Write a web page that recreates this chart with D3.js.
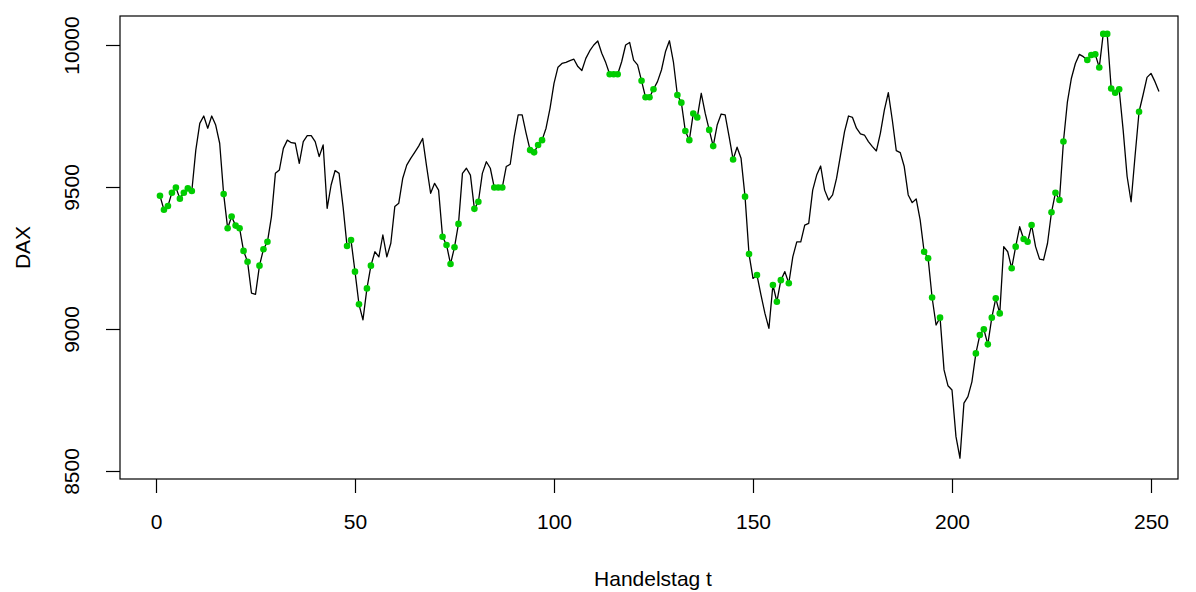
<!DOCTYPE html>
<html>
<head>
<meta charset="utf-8">
<script src="https://cdn.jsdelivr.net/npm/d3@7"></script>
<style>
  body { margin: 0; background: #fff; }
  text { font-family: "Liberation Sans", Arial, sans-serif; }
</style>
</head>
<body>
<script>
/*global d3 */

// DAX closing values per trading day (t = 1..252)
var dax = [
  9469, 9420, 9433, 9480, 9498, 9459, 9480, 9495, 9486, 9630,
  9724, 9750, 9707, 9750, 9718, 9654, 9475, 9355, 9396, 9364,
  9355, 9275, 9237, 9126, 9122, 9223, 9281, 9307, 9395, 9548,
  9560, 9636, 9665, 9656, 9654, 9583, 9660, 9681, 9681, 9660,
  9607, 9648, 9425, 9507, 9558, 9548, 9431, 9292, 9313, 9202,
  9087, 9032, 9143, 9223, 9272, 9254, 9331, 9254, 9302, 9431,
  9443, 9531, 9577, 9601, 9622, 9644, 9671, 9572, 9478, 9513,
  9489, 9325, 9296, 9229, 9288, 9370, 9548, 9566, 9542, 9423,
  9448, 9548, 9589, 9566, 9498, 9498, 9498, 9572, 9580, 9677,
  9754, 9754, 9689, 9630, 9622, 9648, 9665, 9707, 9777, 9865,
  9922, 9935, 9939, 9945, 9950, 9924, 9910, 9953, 9980, 10000,
  10014, 9971, 9938, 9897, 9897, 9897, 9941, 10000, 10009, 9947,
  9930, 9874, 9816, 9816, 9844, 9871, 9912, 9976, 10015, 9941,
  9824, 9797, 9697, 9665, 9759, 9745, 9830, 9759, 9701, 9644,
  9718, 9757, 9754, 9677, 9597, 9640, 9601, 9466, 9264, 9178,
  9190, 9120, 9055, 9002, 9155, 9096, 9172, 9202, 9161, 9254,
  9307, 9307, 9366, 9372, 9489, 9542, 9574, 9489, 9454, 9472,
  9531, 9613, 9695, 9750, 9745, 9707, 9687, 9683, 9660, 9642,
  9627, 9689, 9771, 9832, 9736, 9628, 9621, 9572, 9472, 9445,
  9458, 9384, 9272, 9249, 9111, 9014, 9040, 8856, 8800, 8785,
  8621, 8545, 8739, 8762, 8814, 8914, 8979, 8999, 8946, 9040,
  9108, 9055, 9290, 9272, 9214, 9290, 9360, 9317, 9307, 9366,
  9290, 9246, 9243, 9302, 9411, 9480, 9454, 9660, 9800, 9883,
  9935, 9967, 9959, 9947, 9965, 9967, 9921, 10039, 10039, 9847,
  9832, 9844, 9701, 9537, 9448, 9610, 9765, 9824, 9886, 9900,
  9871, 9836
];

// trading days that get a green marker
var marked = [
  1, 2, 3, 4, 5, 6, 7, 8, 9,
  17, 18, 19, 20, 21, 22, 23, 26, 27, 28,
  48, 49, 50, 51, 53, 54,
  72, 73, 74, 75, 76, 80, 81, 85, 86, 87,
  94, 95, 96, 97, 114, 115, 116, 122, 123, 124, 125,
  131, 132, 133, 134, 135, 136, 139, 140, 145, 148, 149, 151,
  155, 156, 157, 159,
  193, 194, 195, 197,
  206, 207, 208, 209, 210, 211, 212, 215, 216, 218, 219, 220,
  225, 226, 227, 228,
  234, 235, 236, 237, 238, 239, 240, 241, 242, 247
];

var xTicks = [0, 50, 100, 150, 200, 250];
var yTicks = [8500, 9000, 9500, 10000];

var width = 1196,
    height = 592;

// plot box (R style frame)
var box = { left: 120, right: 1178, top: 16, bottom: 479 };

var svg = d3.select("body").append("svg")
    .attr("width", width)
    .attr("height", height);

var x = d3.scaleLinear().domain([0, 250]).range([156, 1151]);
var y = d3.scaleLinear().domain([8500, 10000]).range([471, 45]);

var points = dax.map(function(v, i) { return { t: i + 1, v: v }; });

//the line
var line = d3.line()
    .x(function(d) { return x(d.t); })
    .y(function(d) { return y(d.v); });

svg.append("path")
    .datum(points)
    .attr("d", line)
    .attr("fill", "none")
    .attr("stroke", "#000")
    .attr("stroke-width", 1.3)
    .attr("stroke-linejoin", "round");

//green dots
svg.selectAll("circle.mark")
    .data(marked)
  .enter().append("circle")
    .attr("class", "mark")
    .attr("cx", function(t) { return x(t); })
    .attr("cy", function(t) { return y(dax[t - 1]); })
    .attr("r", 3.3)
    .attr("fill", "#00cd00");

//frame
svg.append("rect")
    .attr("x", box.left)
    .attr("y", box.top)
    .attr("width", box.right - box.left)
    .attr("height", box.bottom - box.top)
    .attr("fill", "none")
    .attr("stroke", "#000")
    .attr("stroke-width", 1.2);

//x axis
var xAxis = d3.axisBottom(x).tickValues(xTicks).tickFormat(d3.format("d"))
    .tickSize(14).tickPadding(21).tickSizeOuter(0);
var gx = svg.append("g")
    .attr("transform", "translate(0," + box.bottom + ")")
    .call(xAxis);
gx.select(".domain").remove();
gx.selectAll("text")
    .attr("fill", "#000")
    .style("font-size", "21px");

//y axis, labels turned like R's default
var yAxis = d3.axisLeft(y).tickValues(yTicks).tickFormat(d3.format("d"))
    .tickSize(14).tickSizeOuter(0);
var gy = svg.append("g")
    .attr("transform", "translate(" + box.left + ",0)")
    .call(yAxis);
gy.select(".domain").remove();
gy.selectAll(".tick text")
    .attr("x", null)
    .attr("dy", null)
    .attr("fill", "#000")
    .attr("text-anchor", "middle")
    .attr("transform", "translate(-41,0) rotate(-90)")
    .style("font-size", "21px");

svg.selectAll(".tick line").attr("stroke", "#000").attr("stroke-width", 1.2);

//axis titles
svg.append("text")
    .attr("x", (box.left + box.right) / 2 + 4)
    .attr("y", 586)
    .attr("text-anchor", "middle")
    .style("font-size", "21px")
    .text("Handelstag t");

svg.append("text")
    .attr("transform", "translate(30," + ((box.top + box.bottom) / 2) + ") rotate(-90)")
    .attr("text-anchor", "middle")
    .style("font-size", "21px")
    .text("DAX");
</script>
</body>
</html>
